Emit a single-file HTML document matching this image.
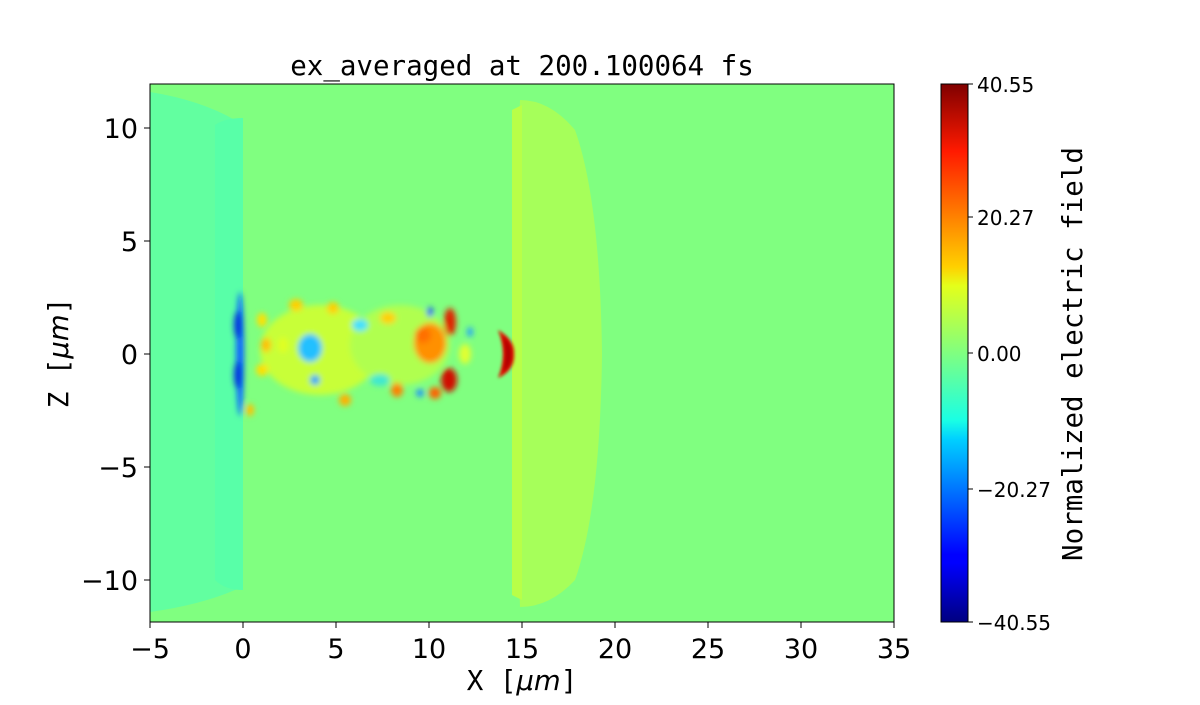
<!DOCTYPE html>
<html><head><meta charset="utf-8"><style>body{margin:0;background:#fff}</style></head><body>
<svg width="1200" height="700" xmlns="http://www.w3.org/2000/svg">
<defs>
<clipPath id="c"><rect x="150" y="84" width="744" height="538"/></clipPath>
<filter id="b" x="-50%" y="-50%" width="200%" height="200%"><feGaussianBlur stdDeviation="3"/></filter>
<filter id="b2" x="-50%" y="-50%" width="200%" height="200%"><feGaussianBlur stdDeviation="1.5"/></filter>
<linearGradient id="jet" x1="0" y1="1" x2="0" y2="0">
<stop offset="0" stop-color="#000080"/><stop offset="0.11" stop-color="#0000ff"/>
<stop offset="0.125" stop-color="#0000ff"/><stop offset="0.34" stop-color="#00d0ff"/>
<stop offset="0.375" stop-color="#1affe4"/><stop offset="0.5" stop-color="#80ff80"/>
<stop offset="0.625" stop-color="#e4ff1a"/><stop offset="0.66" stop-color="#ffd000"/>
<stop offset="0.875" stop-color="#ff1a00"/><stop offset="1" stop-color="#800000"/>
</linearGradient>
</defs>
<g clip-path="url(#c)">
<rect x="150" y="84" width="744" height="538" fill="#80ff80"/>
<path d="M150,92 Q200,100 235,120 L243,120 L243,588 L235,590 Q200,605 150,612 Z" fill="#62ffa0"/>
<path d="M215,125 Q225,118 243,118 L243,590 Q225,590 215,580 Z" fill="#58ffa8"/>
<path d="M520,100 Q550,100 575,130 Q600,200 602,354 Q600,510 575,580 Q550,607 520,607 Q512,354 520,100 Z" fill="#a6ff5a"/>
<path d="M512,110 L522,105 L522,600 L512,595 Z" fill="#b8ff48"/>
<g filter="url(#b)">
<ellipse cx="240" cy="354" rx="4" ry="62" fill="#1060ff"/>
<ellipse cx="238" cy="325" rx="4" ry="14" fill="#0030e0"/>
<ellipse cx="238" cy="375" rx="4" ry="14" fill="#0030e0"/>
<ellipse cx="320" cy="350" rx="60" ry="45" fill="#c8ff38"/>
<ellipse cx="400" cy="345" rx="50" ry="40" fill="#b0ff50"/>
<ellipse cx="262" cy="320" rx="5" ry="7" fill="#ffe000"/>
<ellipse cx="266" cy="345" rx="5" ry="7" fill="#ffc000"/>
<ellipse cx="262" cy="370" rx="6" ry="6" fill="#ffe000"/>
<ellipse cx="250" cy="410" rx="4" ry="6" fill="#ffc000"/>
<ellipse cx="296" cy="305" rx="7" ry="6" fill="#ffd000"/>
<ellipse cx="283" cy="345" rx="5" ry="8" fill="#e0ff20"/>
<ellipse cx="310" cy="348" rx="12" ry="14" fill="#20c0ff"/>
<ellipse cx="315" cy="380" rx="5" ry="5" fill="#10a0ff"/>
<ellipse cx="333" cy="308" rx="6" ry="6" fill="#ffd000"/>
<ellipse cx="345" cy="400" rx="6" ry="6" fill="#ffb000"/>
<ellipse cx="360" cy="325" rx="8" ry="6" fill="#40e0ff"/>
<ellipse cx="388" cy="318" rx="8" ry="6" fill="#ffd000"/>
<ellipse cx="397" cy="390" rx="6" ry="7" fill="#ff8000"/>
<ellipse cx="380" cy="380" rx="10" ry="6" fill="#40e8d0"/>
<ellipse cx="430" cy="343" rx="16" ry="20" fill="#ff9000"/>
<ellipse cx="423" cy="335" rx="8" ry="8" fill="#ff7000"/>
<ellipse cx="450" cy="322" rx="6" ry="14" fill="#e02000"/>
<ellipse cx="449" cy="380" rx="8" ry="12" fill="#d01000"/>
<ellipse cx="435" cy="393" rx="6" ry="6" fill="#ff6000"/>
<ellipse cx="430" cy="312" rx="3" ry="5" fill="#1040ff"/>
<ellipse cx="470" cy="332" rx="3" ry="5" fill="#20a0ff"/>
<ellipse cx="420" cy="393" rx="4" ry="4" fill="#2090ff"/>
<ellipse cx="465" cy="354" rx="6" ry="10" fill="#e0ff30"/>
</g>
<path d="M498,330 Q515,340 514,354 Q515,370 498,378 Q508,354 498,330 Z" fill="#e01000" filter="url(#b2)"/>
<path d="M503,336 Q512,345 511,354 Q512,365 503,372 Q508,354 503,336 Z" fill="#b00000" filter="url(#b2)"/>
</g>
<rect x="150" y="84" width="744" height="538" fill="none" stroke="#000" stroke-width="1"/>
<g stroke="#000" stroke-width="1">
<line x1="150" y1="622" x2="150" y2="628"/><line x1="243" y1="622" x2="243" y2="628"/><line x1="336" y1="622" x2="336" y2="628"/><line x1="429" y1="622" x2="429" y2="628"/><line x1="522" y1="622" x2="522" y2="628"/><line x1="615" y1="622" x2="615" y2="628"/><line x1="708" y1="622" x2="708" y2="628"/><line x1="801" y1="622" x2="801" y2="628"/><line x1="894" y1="622" x2="894" y2="628"/>
<line x1="144" y1="128" x2="150" y2="128"/><line x1="144" y1="241" x2="150" y2="241"/><line x1="144" y1="354" x2="150" y2="354"/><line x1="144" y1="467" x2="150" y2="467"/><line x1="144" y1="580" x2="150" y2="580"/>
</g>
<g font-family="DejaVu Sans, Liberation Sans, sans-serif" font-size="27" fill="#000">
<g text-anchor="middle">
<text x="150" y="658">−5</text><text x="243" y="658">0</text><text x="336" y="658">5</text><text x="429" y="658">10</text><text x="522" y="658">15</text><text x="615" y="658">20</text><text x="708" y="658">25</text><text x="801" y="658">30</text><text x="894" y="658">35</text>
</g>
<g text-anchor="end">
<text x="138" y="138">10</text><text x="138" y="251">5</text><text x="138" y="364">0</text><text x="138" y="477">−5</text><text x="138" y="590">−10</text>
</g>
</g>
<g font-family="DejaVu Sans Mono, Liberation Mono, monospace" font-size="27.5" fill="#000">
<text x="522" y="75" text-anchor="middle">ex_averaged at 200.100064 fs</text>
<text x="522" y="690" text-anchor="middle">X [<tspan font-style="italic" font-family="DejaVu Sans, sans-serif">μm</tspan>]</text>
<text transform="translate(68,353) rotate(-90)" text-anchor="middle">Z [<tspan font-style="italic" font-family="DejaVu Sans, sans-serif">μm</tspan>]</text>
<text transform="translate(1082,354) rotate(-90)" text-anchor="middle">Normalized electric field</text>
</g>
<rect x="941" y="84" width="27" height="538" fill="url(#jet)" stroke="#000" stroke-width="1"/>
<g stroke="#000"><line x1="968" y1="84" x2="973" y2="84"/><line x1="968" y1="217" x2="973" y2="217"/><line x1="968" y1="353" x2="973" y2="353"/><line x1="968" y1="489" x2="973" y2="489"/><line x1="968" y1="622" x2="973" y2="622"/></g>
<g font-family="DejaVu Sans, Liberation Sans, sans-serif" font-size="20" fill="#000">
<text x="977" y="92">40.55</text><text x="977" y="225">20.27</text><text x="977" y="361">0.00</text><text x="977" y="497">−20.27</text><text x="977" y="630">−40.55</text>
</g>
</svg>
</body></html>
